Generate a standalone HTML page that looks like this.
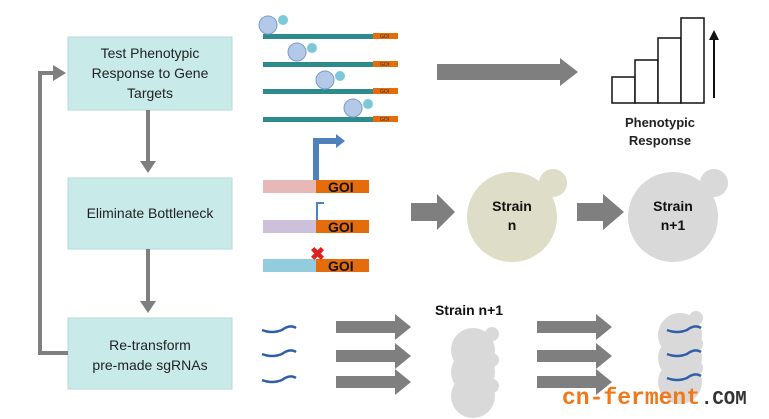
<!DOCTYPE html><html><head><style>body{margin:0;background:#fff}svg{display:block}</style></head><body>
<svg width="769" height="419" viewBox="0 0 769 419" font-family="Liberation Sans, Arial, sans-serif">
<g fill="#c8ebea" stroke="#b5dada">
<rect x="68" y="37" width="164" height="73"/><rect x="68" y="178" width="164" height="71"/><rect x="68" y="318" width="164" height="71"/></g>
<g font-size="14" fill="#222" text-anchor="middle">
<text x="150" y="58">Test Phenotypic</text><text x="150" y="78">Response to Gene</text><text x="150" y="98">Targets</text>
<text x="150" y="218">Eliminate Bottleneck</text>
<text x="150" y="350">Re-transform</text><text x="150" y="370">pre-made sgRNAs</text></g>
<g stroke="#7f7f7f" stroke-width="4" fill="none">
<line x1="148" y1="110" x2="148" y2="163"/><line x1="148" y1="249" x2="148" y2="303"/>
<polyline points="68,353 40,353 40,73 55,73"/></g>
<g fill="#7f7f7f"><path d="M140,161L156,161L148,173z"/><path d="M140,301L156,301L148,313z"/><path d="M53,65L53,81L66,73z"/></g>
<g><rect x="263" y="34" width="110" height="5" fill="#2e8b8b"/><rect x="373" y="33" width="25" height="6" fill="#e46c0a"/>
<rect x="263" y="62" width="110" height="5" fill="#2e8b8b"/><rect x="373" y="61" width="25" height="6" fill="#e46c0a"/>
<rect x="263" y="89" width="110" height="5" fill="#2e8b8b"/><rect x="373" y="88" width="25" height="6" fill="#e46c0a"/>
<rect x="263" y="117" width="110" height="5" fill="#2e8b8b"/><rect x="373" y="116" width="25" height="6" fill="#e46c0a"/></g>
<g fill="#b4c8e8" stroke="#7a9ad0"><circle cx="268" cy="25" r="9"/><circle cx="297" cy="52" r="9"/><circle cx="325" cy="80" r="9"/><circle cx="353" cy="108" r="9"/></g>
<g fill="#7cc7d8"><circle cx="283" cy="20" r="5"/><circle cx="312" cy="48" r="5"/><circle cx="340" cy="76" r="5"/><circle cx="368" cy="104" r="5"/></g>
<g font-size="5" fill="#333"><text x="380" y="38">GOI</text><text x="380" y="66">GOI</text><text x="380" y="93">GOI</text><text x="380" y="121">GOI</text></g>
<rect x="263" y="180" width="53" height="13" fill="#e6b9b8"/><rect x="316" y="180" width="53" height="13" fill="#e46c0a"/>
<rect x="263" y="220" width="53" height="13" fill="#ccc0da"/><rect x="316" y="220" width="53" height="13" fill="#e46c0a"/>
<rect x="263" y="259" width="53" height="13" fill="#93cddd"/><rect x="316" y="259" width="53" height="13" fill="#e46c0a"/>
<g font-size="14" font-weight="bold" fill="#111"><text x="328" y="192">GOI</text><text x="328" y="232">GOI</text><text x="328" y="271">GOI</text></g>
<path d="M316,180V141H337" stroke="#4f81bd" stroke-width="6" fill="none"/><path d="M336,134L345,141L336,148z" fill="#4f81bd"/>
<path d="M317,220V203H324" stroke="#4f81bd" stroke-width="2" fill="none"/>
<text x="310" y="260" font-size="18" font-weight="bold" fill="#e02020">✖</text>
<g fill="#7f7f7f">
<path d="M437,64H560V58L578,72L560,86V80H437z"/>
<path d="M411,203H437V194L455,212L437,230V221H411z"/>
<path d="M577,203H603V194L624,212L603,230V221H577z"/>
<path d="M336,321H395V314L411,327L395,340V333H336z"/>
<path d="M336,350H395V343L411,356L395,369V362H336z"/>
<path d="M336,376H395V369L411,382L395,395V388H336z"/>
<path d="M537,321H596V314L612,327L596,340V333H537z"/>
<path d="M537,350H596V343L612,356L596,369V362H537z"/>
<path d="M537,376H596V369L612,382L596,395V388H537z"/></g>
<g fill="#fff" stroke="#111" stroke-width="1.5"><rect x="612" y="77" width="23" height="26"/><rect x="635" y="60" width="23" height="43"/><rect x="658" y="38" width="23" height="65"/><rect x="681" y="18" width="23" height="85"/></g>
<path d="M714,98V38" stroke="#111" stroke-width="2"/><path d="M709,40L714,30L719,40z" fill="#111"/>
<g font-size="13" font-weight="bold" text-anchor="middle" fill="#222"><text x="660" y="127">Phenotypic</text><text x="660" y="145">Response</text></g>
<circle cx="553" cy="183" r="15" fill="#deddc8" stroke="#fff" stroke-width="2"/><circle cx="512" cy="217" r="45" fill="#deddc8"/>
<circle cx="714" cy="183" r="15" fill="#d9d9d9" stroke="#fff" stroke-width="2"/><circle cx="673" cy="217" r="45" fill="#d9d9d9"/>
<g font-size="14" font-weight="bold" text-anchor="middle" fill="#111"><text x="512" y="211">Strain</text><text x="512" y="230">n</text><text x="673" y="211">Strain</text><text x="673" y="230">n+1</text><text x="469" y="315">Strain n+1</text></g>
<g fill="#d9d9d9"><circle cx="492" cy="334" r="7"/><circle cx="473" cy="350" r="22"/><circle cx="492" cy="360" r="7"/><circle cx="473" cy="372" r="22"/><circle cx="492" cy="386" r="7"/><circle cx="473" cy="396" r="22"/>
<circle cx="696" cy="318" r="7"/><circle cx="680" cy="335" r="22"/><circle cx="696" cy="344" r="7"/><circle cx="680" cy="358" r="22"/><circle cx="696" cy="368" r="7"/><circle cx="680" cy="382" r="22"/></g>
<g stroke="#2f5fa8" stroke-width="2.5" fill="none">
<path d="M262,330q10,4 20,0q8,-6 14,-2"/><path d="M262,354q10,4 20,0q8,-6 14,-2"/><path d="M262,380q10,4 20,0q8,-6 14,-2"/>
<path d="M667,330q10,4 20,0q8,-6 14,-2"/><path d="M667,354q10,4 20,0q8,-6 14,-2"/><path d="M667,378q10,4 20,0q8,-6 14,-2"/></g>
<g font-weight="bold" font-family="Liberation Mono, monospace"><text x="562" y="404" fill="#f07818" font-size="23">cn-ferment</text><text x="701" y="404" fill="#333" font-size="19">.COM</text></g>
</svg></body></html>
